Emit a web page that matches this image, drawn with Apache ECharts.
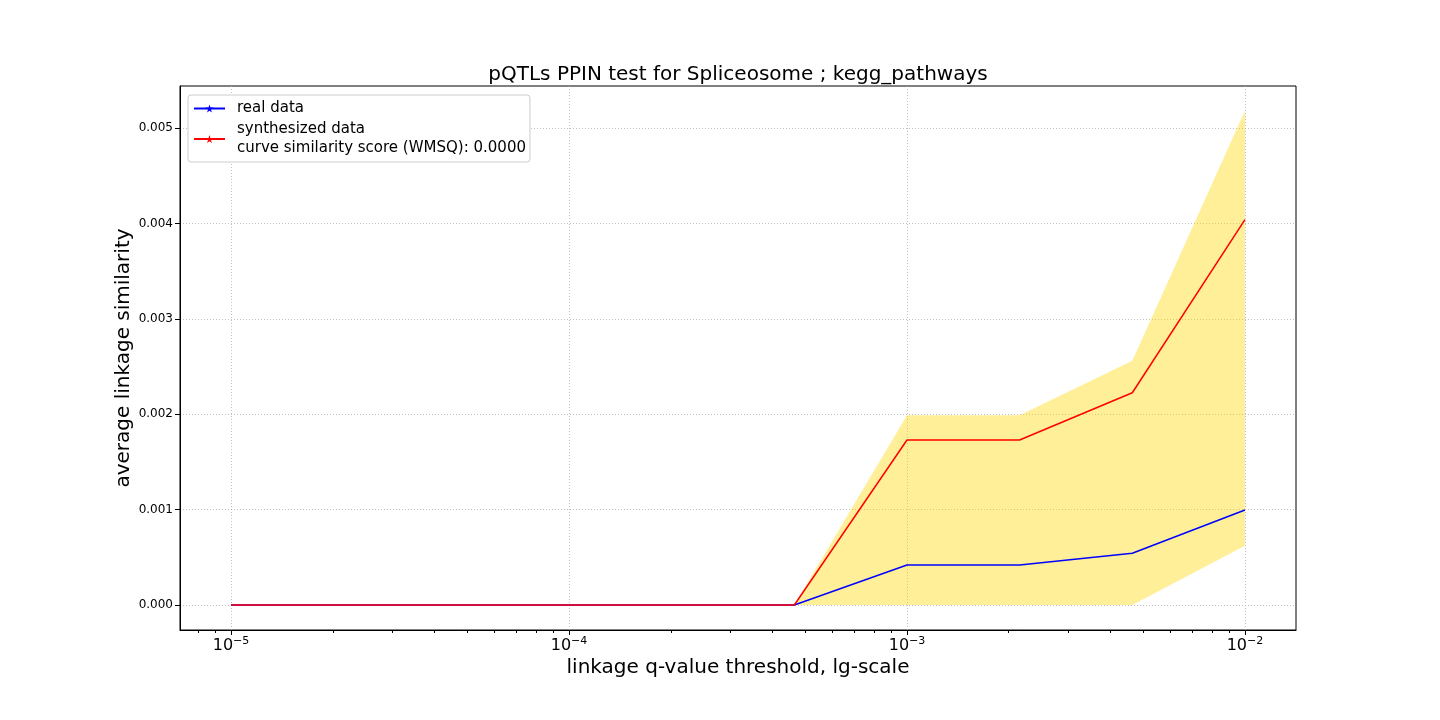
<!DOCTYPE html>
<html>
<head>
<meta charset="utf-8">
<script src="https://cdn.jsdelivr.net/npm/echarts@6/dist/echarts.min.js"></script>
<style>html,body{margin:0;padding:0;background:#fff}#c{width:1440px;height:720px}</style>
</head>
<body>
<div id="c"></div>
<script>
// ---- data ----
var thresholds = [1e-5, 2.154e-5, 4.642e-5, 1e-4, 2.154e-4, 4.642e-4, 1e-3, 2.154e-3, 4.642e-3, 1e-2];
var realData   = [0, 0, 0, 0, 0, 0, 0.00042, 0.00042, 0.000543, 0.000996];
var synthData  = [0, 0, 0, 0, 0, 0, 0.00173, 0.00173, 0.002225, 0.00404];
var bandUpper  = [0, 0, 0, 0, 0, 0, 0.00199, 0.00199, 0.00256, 0.00518];
var bandLower  = [0, 0, 0, 0, 0, 0, 0, 0, 0, 0.00062];
var xTickValues = [1e-5, 1e-4, 1e-3, 1e-2];
var yTickValues = [0, 0.001, 0.002, 0.003, 0.004, 0.005];
var titleText = 'pQTLs PPIN test for Spliceosome ; kegg_pathways';
var realName = 'real data';
var synthName = 'synthesized data\ncurve similarity score (WMSQ): 0.0000';

// ---- derived ----
var xMin = Math.pow(10, -5.151), xMax = Math.pow(10, -1.849);
var minorTicks = [];
for (var e = -6; e <= -2; e++) {
  for (var k = 2; k <= 9; k++) {
    var v = k * Math.pow(10, e);
    if (v > xMin && v < xMax) minorTicks.push(v);
  }
}
var pair = function (ys) { return thresholds.map(function (x, i) { return [x, ys[i]]; }); };
var bandData = thresholds.map(function (x, i) { return [x, bandLower[i], bandUpper[i]]; });
var star = 'path://M50,0 L61,35 L98,35 L68,57 L79,91 L50,70 L21,91 L32,57 L2,35 L39,35 Z';
var FONT = 'DejaVu Sans';

var chart = echarts.init(document.getElementById('c'), null, {renderer: 'canvas'});
chart.setOption({
  animation: false,
  backgroundColor: '#fff',
  textStyle: {fontFamily: FONT, color: '#000'},
  title: {
    text: titleText, left: 733, top: 60, textAlign: 'center',
    textStyle: {fontFamily: FONT, fontSize: 20, fontWeight: 'normal', color: '#000'}
  },
  grid: {left: 180, right: 144, top: 86, bottom: 90, show: true, borderColor: '#000', borderWidth: 1, backgroundColor: 'transparent'},
  legend: {
    orient: 'vertical', left: 188, top: 95, itemWidth: 31, itemHeight: 10, itemGap: 2,
    padding: [4, 4, 4, 5],
    backgroundColor: '#fff', borderColor: '#ccc', borderWidth: 1, borderRadius: 3,
    textStyle: {fontFamily: FONT, fontSize: 15, color: '#000', lineHeight: 19, padding: [0, 0, 0, 7]},
    data: [realName, synthName]
  },
  xAxis: [{
    type: 'log', logBase: 10, min: xMin, max: xMax,
    name: 'linkage q-value threshold, lg-scale', nameLocation: 'middle', nameGap: 28,
    nameMoveOverlap: false,
    nameTextStyle: {fontFamily: FONT, fontSize: 20, color: '#000'},
    axisLine: {show: true, onZero: false, lineStyle: {color: '#000', width: 1}},
    axisTick: {show: true, inside: false, length: 5, customValues: xTickValues, lineStyle: {color: '#000'}},
    axisLabel: {
      show: true, customValues: xTickValues, margin: 6, color: '#000',
      formatter: function (v) {
        var ex = Math.round(Math.log10(v));
        return '{b|10}{s|' + (ex < 0 ? '\u2212' + (-ex) : ex) + '}';
      },
      rich: {
        b: {fontFamily: FONT, fontSize: 16, color: '#000'},
        s: {fontFamily: FONT, fontSize: 11, color: '#000', padding: [0, 0, 9, 0]}
      }
    },
    splitLine: {show: true, lineStyle: {color: '#b0b0b0', type: [1, 2], width: 0.8}}
  }, {
    type: 'log', logBase: 10, min: xMin, max: xMax, position: 'bottom', gridIndex: 0,
    axisLine: {show: false, onZero: false},
    axisTick: {show: true, inside: false, length: 3, customValues: minorTicks, lineStyle: {color: '#000'}},
    axisLabel: {show: false},
    splitLine: {show: false}
  }],
  yAxis: {
    type: 'value', min: -0.000262, max: 0.00544,
    name: 'average linkage similarity', nameLocation: 'middle', nameGap: 46,
    nameMoveOverlap: false,
    nameTextStyle: {fontFamily: FONT, fontSize: 20, color: '#000'},
    axisLine: {show: true, onZero: false, lineStyle: {color: '#000', width: 1}},
    axisTick: {show: true, length: 5, customValues: yTickValues, lineStyle: {color: '#000'}},
    axisLabel: {
      show: true, customValues: yTickValues, margin: 7, color: '#000',
      fontFamily: FONT, fontSize: 12,
      formatter: function (v) { return v.toFixed(3); }
    },
    splitLine: {show: true, lineStyle: {color: '#b0b0b0', type: [1, 2], width: 0.8}}
  },
  series: [{
    name: 'band', type: 'custom', data: bandData, silent: true, z: 1,
    encode: {x: 0, y: [1, 2]},
    renderItem: function (params, api) {
      if (params.dataIndex !== 0) return null;
      var top = [], bottom = [];
      for (var i = 0; i < bandData.length; i++) {
        top.push(api.coord([bandData[i][0], bandData[i][2]]));
        bottom.unshift(api.coord([bandData[i][0], bandData[i][1]]));
      }
      return {
        type: 'polygon',
        shape: {points: top.concat(bottom)},
        style: {fill: 'rgba(255,215,0,0.4)', stroke: null}
      };
    }
  }, {
    name: realName, type: 'line', data: pair(realData), color: '#0000ff',
    symbol: star, symbolSize: 9, showSymbol: false,
    lineStyle: {color: '#0000ff', width: 1.5}, itemStyle: {color: '#0000ff'}, z: 3
  }, {
    name: synthName, type: 'line', data: pair(synthData), color: '#ff0000',
    symbol: star, symbolSize: 9, showSymbol: false,
    lineStyle: {color: '#ff0000', width: 1.5}, itemStyle: {color: '#ff0000'}, z: 4
  }]
});
</script>
</body>
</html>
